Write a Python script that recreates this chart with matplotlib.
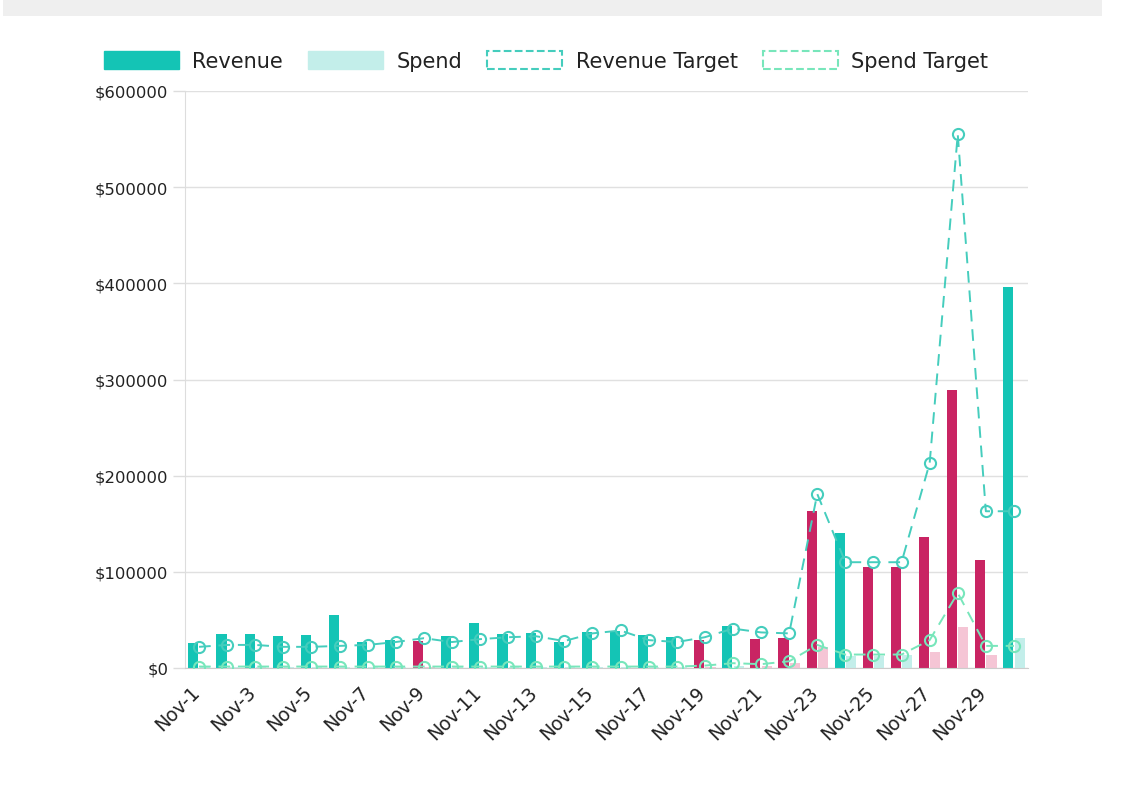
import numpy as np
import matplotlib.pyplot as plt
from matplotlib.patches import Patch, Rectangle
from matplotlib.transforms import ScaledTranslation

days = ['Nov-%d' % d for d in range(1, 31)]

revenue = [26000, 35000, 35000, 33000, 34000, 55000, 27000, 29000, 28000, 33000,
           47000, 35000, 36000, 27000, 37000, 38000, 34000, 32000, 29000, 44000,
           30000, 31000, 163000, 140000, 105000, 105000, 136000, 289000, 112000, 396000]
spend = [1000, 1000, 1000, 1000, 1000, 1000, 1000, 1000, 1000, 1000,
         1000, 1000, 1000, 1000, 1000, 1000, 1000, 1000, 1500, 2000,
         2500, 5000, 22000, 12000, 12000, 14000, 17000, 43000, 13000, 31000]
revenue_target = [22000, 24000, 24000, 22000, 22000, 23000, 24000, 27000, 31000, 27000,
                  30000, 32000, 33000, 28000, 36000, 39000, 29000, 27000, 32000, 41000,
                  37000, 36000, 181000, 110000, 110000, 110000, 213000, 555000, 163000, 163000]
spend_target = [1500, 1500, 1500, 1500, 1500, 1500, 1500, 1500, 1500, 1500,
                1500, 1500, 1500, 1500, 1500, 1500, 1500, 1500, 2500, 5000,
                4000, 7000, 24000, 14000, 14000, 14000, 29000, 78000, 23000, 23000]
# which days missed the target (drawn in magenta / pink)
rev_missed = [0, 0, 0, 0, 0, 0, 0, 0, 1, 0, 0, 0, 0, 0, 0, 0, 0, 0, 1, 0,
              1, 1, 1, 0, 1, 1, 1, 1, 1, 0]
spend_flag = [0, 0, 0, 0, 0, 0, 0, 0, 1, 0, 0, 0, 0, 0, 0, 0, 0, 0, 1, 0,
              1, 1, 1, 0, 0, 0, 1, 1, 1, 0]

TEAL = '#14c4b5'
MAGENTA = '#c92463'
LIGHT_TEAL = '#c3eeea'
PINK = '#f5c5d5'
REV_LINE = '#45cdbd'
SPEND_LINE = '#78e6bb'

fig = plt.figure(figsize=(11.22, 8.04), dpi=100)
fig.patches.append(Rectangle((3 / 1122, 1 - 17 / 804), 1099 / 1122, 17 / 804,
                             transform=fig.transFigure, facecolor='#efefef',
                             edgecolor='none', zorder=0))
ax = fig.add_axes([185 / 1122, 1 - 669 / 804, 843 / 1122, 577 / 804])

x = np.arange(len(days))
w = 0.36
rev_colors = [MAGENTA if m else TEAL for m in rev_missed]
sp_colors = [PINK if m else LIGHT_TEAL for m in spend_flag]
ax.bar(x - 0.2, revenue, width=w, color=rev_colors, zorder=2)
ax.bar(x + 0.2, spend, width=w, color=sp_colors, zorder=2)

ax.plot(x, revenue_target, color=REV_LINE, linestyle=(0, (6, 4)), linewidth=1.4,
        marker='o', markersize=8, markerfacecolor='none', markeredgewidth=1.5, zorder=3)
ax.plot(x, spend_target, color=SPEND_LINE, linestyle=(0, (6, 4)), linewidth=1.4,
        marker='o', markersize=8, markerfacecolor='none', markeredgewidth=1.5, zorder=3)

ax.set_xlim(-0.5, len(days) - 0.5)
ax.set_ylim(0, 600000)
ax.set_yticks(np.arange(0, 600001, 100000))
ax.set_yticklabels(['$%d' % v for v in range(0, 600001, 100000)])
ax.set_xticks(x[::2])
ax.set_xticklabels(days[::2], rotation=45, ha='right', rotation_mode='anchor')
ax.tick_params(axis='y', labelsize=11.8, colors='#dddddd', labelcolor='#222222',
               length=9, width=1, pad=3)
ax.tick_params(axis='x', labelsize=13.5, labelcolor='#222222', length=0, pad=10)
shift = ScaledTranslation(-9 / 100, 0, fig.dpi_scale_trans)
for lbl in ax.get_xticklabels():
    lbl.set_transform(lbl.get_transform() + shift)
ax.grid(axis='y', color='#e0e0e0', linewidth=1, zorder=0)
ax.set_axisbelow(True)
for side in ['top', 'right']:
    ax.spines[side].set_visible(False)
ax.spines['left'].set_color('#dddddd')
ax.spines['bottom'].set_color('#cccccc')

handles = [
    Patch(facecolor=TEAL, edgecolor=TEAL),
    Patch(facecolor=LIGHT_TEAL, edgecolor=LIGHT_TEAL),
    Patch(facecolor='none', edgecolor=REV_LINE, linestyle='--', linewidth=1.5),
    Patch(facecolor='none', edgecolor=SPEND_LINE, linestyle='--', linewidth=1.5),
]
fig.legend(handles, ['Revenue', 'Spend', 'Revenue Target', 'Spend Target'],
           loc='center', bbox_to_anchor=(546 / 1122, 1 - 62 / 804), ncol=4,
           frameon=False, fontsize=15, handlelength=3.6, handleheight=0.95,
           columnspacing=1.2, handletextpad=0.65, labelcolor='#222222')

plt.savefig('out.png', dpi=100)
